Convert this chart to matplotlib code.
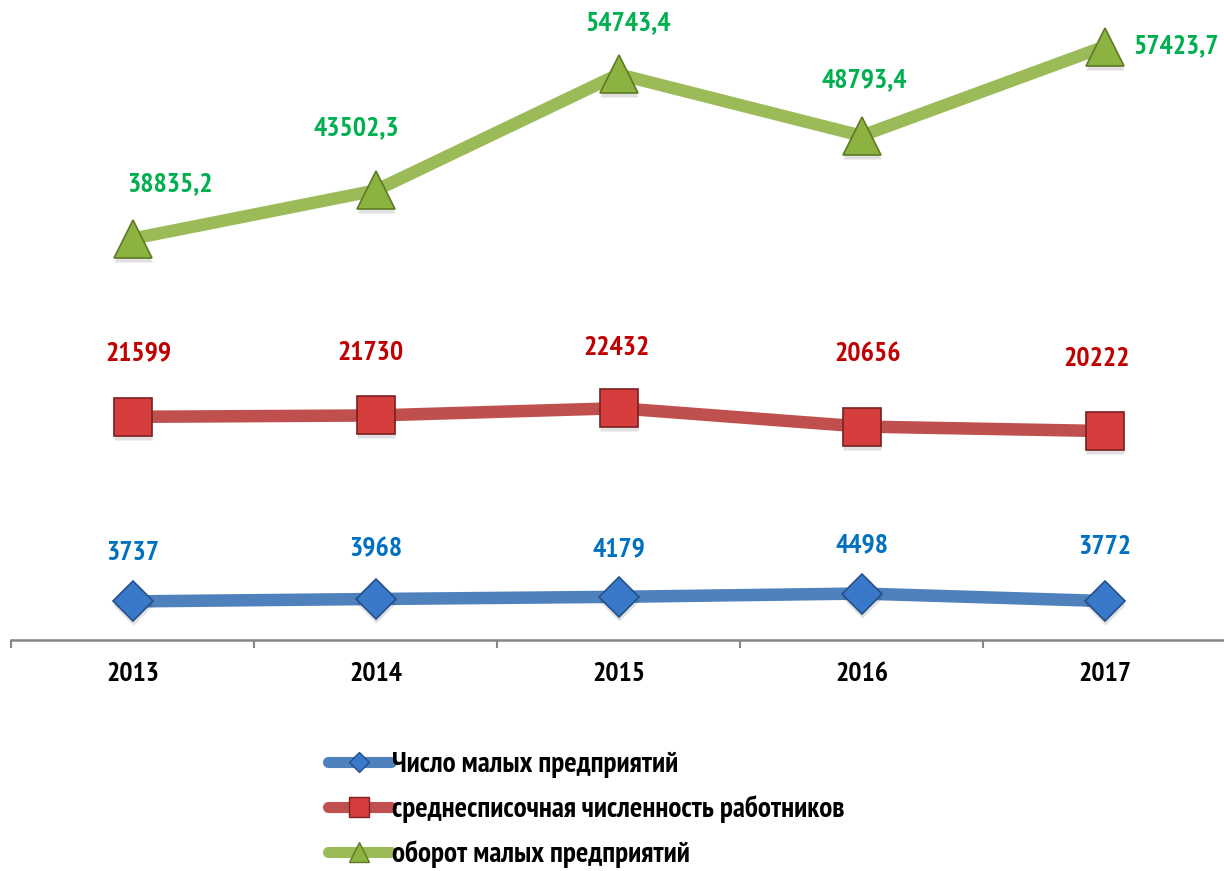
import matplotlib
matplotlib.use("Agg")
import matplotlib.pyplot as plt
from matplotlib.lines import Line2D
import matplotlib.transforms as mtransforms
import numpy as np

years = ["2013", "2014", "2015", "2016", "2017"]
firms = [3737, 3968, 4179, 4498, 3772]
workers = [21599, 21730, 22432, 20656, 20222]
turnover = [38835.2, 43502.3, 54743.4, 48793.4, 57423.7]
firms_labels = ["3737", "3968", "4179", "4498", "3772"]
workers_labels = ["21599", "21730", "22432", "20656", "20222"]
turnover_labels = ["38835,2", "43502,3", "54743,4", "48793,4", "57423,7"]
series_names = ["Число малых предприятий",
                "среднесписочная численность работников",
                "оборот малых предприятий"]

FONT = ['PT Sans Narrow', 'DejaVu Sans']
plt.rcParams['font.family'] = FONT
plt.rcParams['font.weight'] = 'bold'

W, H = 1224, 871
fig = plt.figure(figsize=(W / 100, H / 100), dpi=100)
ax = fig.add_axes([11 / W, (H - 640) / H, 1215 / W, 620 / H])

x = np.arange(len(years))

styles = [
    dict(data=firms, labels=firms_labels, line='#4F81BD', face='#3A78C9', edge='#24508A',
         marker='D', ms=20, tcol='#0070C0',
         offs=[(0, 48), (0, 50), (0, 47), (0, 48), (0, 54)]),
    dict(data=workers, labels=workers_labels, line='#C0504D', face='#D63D3D', edge='#7A2020',
         marker='s', ms=28, tcol='#C00000',
         offs=[(6, 63), (-5, 62), (-2, 60), (6, 73), (-8, 72)]),
    dict(data=turnover, labels=turnover_labels, line='#9BBB59', face='#8CB23F', edge='#5E7A27',
         marker='^', ms=28, tcol='#00B050',
         offs=[(37, 54), (-19, 62), (10, 51), (3, 56), (72, 0)]),
]

shadow = ax.transData + mtransforms.ScaledTranslation(0, -4 / 100, fig.dpi_scale_trans)
for st in styles:
    ax.plot(x, st['data'], color=st['line'], lw=9, solid_capstyle='butt', zorder=2)
    ax.plot(x, st['data'], linestyle='none', marker=st['marker'], ms=st['ms'],
            color='#000000', alpha=0.12, mec='none', transform=shadow, zorder=3)
    ax.plot(x, st['data'], linestyle='none', marker=st['marker'], ms=st['ms'],
            mfc=st['face'], mec=st['edge'], mew=1.2, zorder=4)
    for xi, v, lab, (dx, dy) in zip(x, st['data'], st['labels'], st['offs']):
        ax.annotate(lab, (xi, v), xytext=(dx, dy), textcoords='offset pixels',
                    ha='center', va='center', fontsize=20, fontweight='bold',
                    color=st['tcol'], zorder=5, annotation_clip=False)

ax.set_xlim(-0.5, len(years) - 0.5)
ax.set_ylim(0, 60000)
for s in ['top', 'right', 'left']:
    ax.spines[s].set_visible(False)
ax.spines['bottom'].set_color('#868686')
ax.spines['bottom'].set_linewidth(1.8)
ax.set_yticks([])
ax.set_xticks(np.arange(-0.5, len(years), 1.0))
ax.set_xticklabels([])
ax.tick_params(axis='x', which='major', length=6, width=1.5, color='#868686', direction='out')
ax.set_xticks(x, minor=True)
ax.set_xticklabels(years, minor=True, fontsize=20, fontweight='bold')
ax.tick_params(axis='x', which='minor', length=0, pad=16)

handles = []
for st in styles:
    handles.append(Line2D([0], [0], color=st['line'], lw=8, solid_capstyle='round',
                          marker=st['marker'], ms=st['ms'] * 0.52,
                          mfc=st['face'], mec=st['edge'], mew=1.0))
leg = fig.legend(handles, series_names, loc='upper left',
                 bbox_to_anchor=(328 / W, 1 - 752 / H), frameon=False,
                 prop=dict(family=FONT, weight='bold', size=21),
                 handlelength=2.15, handletextpad=0.05, labelspacing=0.58,
                 borderpad=0, borderaxespad=0)

fig.savefig('out.png', dpi=100)
